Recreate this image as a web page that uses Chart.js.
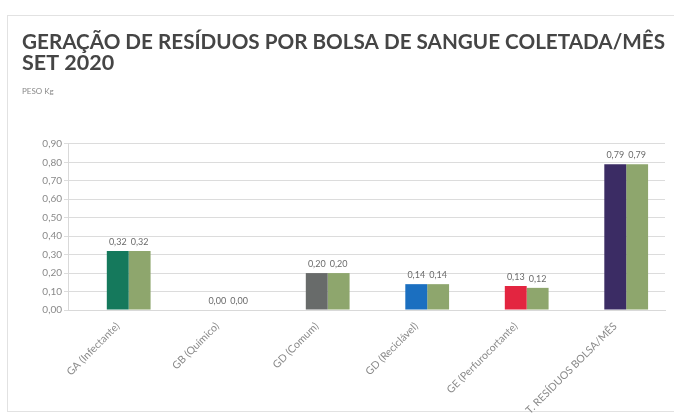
<!DOCTYPE html>
<html>
<head>
<meta charset="utf-8">
<script src="https://cdn.jsdelivr.net/npm/chart.js@4.4.1/dist/chart.umd.min.js"></script>
<style>
  html, body { margin: 0; padding: 0; background: #fff; }
  #wrap { position: relative; width: 674px; height: 415px; }
  #frame { position: absolute; left: 7px; top: 15px; width: 668px; height: 397px; border: 1px solid #e2e2e2; box-sizing: border-box; }
  canvas { position: absolute; left: 0; top: 0; }
</style>
</head>
<body>
<div id="wrap">
  <div id="frame"></div>
  <canvas id="c" width="674" height="415"></canvas>
</div>
<script>
const categories = ["GA (Infectante)", "GB (Químico)", "GD (Comum)", "GD (Reciclável)", "GE (Perfurocortante)", "T. RESÍDUOS BOLSA/MÊS"];
const seriesA = [0.32, 0.00, 0.20, 0.14, 0.13, 0.79];
const seriesB = [0.32, 0.00, 0.20, 0.14, 0.12, 0.79];
const spacer = [null, null, null, null, null, null];
const colorsA = ["#15795c", "#15795c", "#686b6a", "#1b6fc0", "#e32540", "#3b2c64"];
const colorB = "#8ea66d";
const yTicks = [0, 0.1, 0.2, 0.3, 0.4, 0.5, 0.6, 0.7, 0.8, 0.9];
const titleLines = ["GERAÇÃO DE RESÍDUOS POR BOLSA DE SANGUE COLETADA/MÊS", "SET 2020"];
const subtitleText = "PESO Kg";

const fmt = v => v.toFixed(2).replace('.', ',');

const valueLabels = {
  id: 'valueLabels',
  afterDatasetsDraw(chart) {
    const ctx = chart.ctx;
    ctx.save();
    ctx.font = '9px Lato, "Liberation Sans", sans-serif';
    ctx.fillStyle = '#6b6b6b';
    ctx.textAlign = 'center';
    ctx.textBaseline = 'middle';
    [1, 2].forEach(di => {
      const meta = chart.getDatasetMeta(di);
      meta.data.forEach((bar, i) => {
        const v = chart.data.datasets[di].data[i];
        if (v === null || v === undefined) return;
        ctx.fillText(fmt(v), bar.x, bar.y - 9);
      });
    });
    ctx.restore();
  }
};

new Chart(document.getElementById('c'), {
  type: 'bar',
  data: {
    labels: categories,
    datasets: [
      { label: '', data: spacer, backgroundColor: 'rgba(0,0,0,0)' },
      { label: 'A', data: seriesA, backgroundColor: colorsA },
      { label: 'B', data: seriesB, backgroundColor: colorB }
    ]
  },
  options: {
    responsive: false,
    animation: false,
    devicePixelRatio: 1,
    layout: { padding: { top: 32, left: 22, right: 9, bottom: 0 } },
    datasets: { bar: { categoryPercentage: 0.66, barPercentage: 1.0 } },
    plugins: {
      legend: { display: false },
      tooltip: { enabled: false },
      title: {
        display: true,
        text: titleLines,
        align: 'start',
        color: '#454545',
        font: { family: 'Lato, "Open Sans", sans-serif', size: 21.5, weight: 'bold', lineHeight: 0.96 },
        padding: { top: 0, bottom: 13 }
      },
      subtitle: {
        display: true,
        text: subtitleText,
        align: 'start',
        color: '#8a8a8a',
        font: { family: 'Lato, sans-serif', size: 8, lineHeight: 1.2 },
        padding: { top: 0, bottom: 48 }
      }
    },
    scales: {
      x: {
        grid: { display: false },
        border: { display: true, color: '#d9d9d9' },
        ticks: {
          minRotation: 45, maxRotation: 45, autoSkip: false,
          color: '#8a8a8a',
          font: { family: 'Lato, sans-serif', size: 10.5 },
          padding: 2
        },
        afterFit(scale) { scale.height = 105; }
      },
      y: {
        min: 0, max: 0.9,
        afterBuildTicks(scale) { scale.ticks = yTicks.map(v => ({ value: v })); },
        grid: { color: '#dcdcdc', tickLength: 4 },
        border: { display: true, color: '#d9d9d9' },
        ticks: {
          color: '#8a8a8a',
          font: { family: 'Lato, sans-serif', size: 10 },
          padding: 2,
          callback: v => fmt(v)
        },
        afterFit(scale) { scale.width = 46; }
      }
    }
  },
  plugins: [valueLabels]
});
</script>
</body>
</html>
